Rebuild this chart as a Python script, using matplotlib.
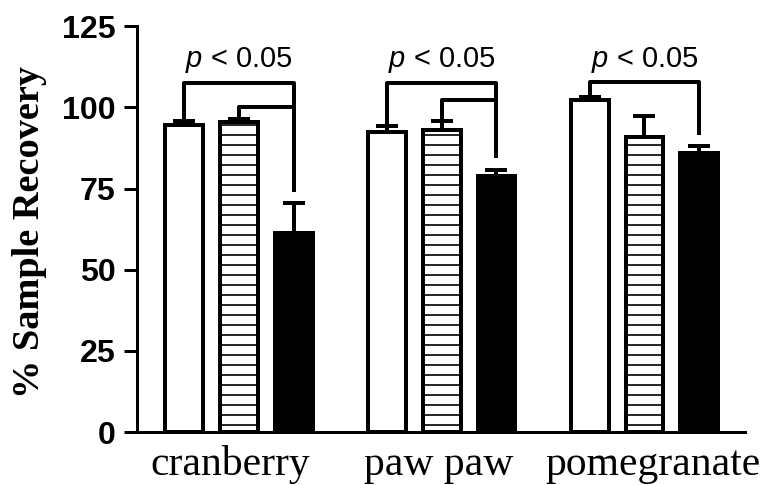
import numpy as np
import matplotlib
matplotlib.use("Agg")
import matplotlib.pyplot as plt
import matplotlib.transforms as mtransforms

# data
fruits = ["cranberry", "paw paw", "pomegranate"]
white_vals = [94.5, 92.4, 102.2]
white_err = [1.3, 2.0, 1.0]
striped_vals = [95.4, 93.0, 90.8]
striped_err = [1.0, 2.8, 6.5]
black_vals = [61.3, 79.0, 85.9]
black_err = [9.2, 1.8, 2.2]

# significance brackets: (group, from bar, to bar, bracket height)
brackets = [(0, 0, 2, 107.4), (0, 1, 2, 100.0),
            (1, 0, 2, 107.4), (1, 1, 2, 102.2),
            (2, 0, 2, 107.8)]
p_labels = ["p < 0.05", "p < 0.05", "p < 0.05"]

DPI = 120
plt.rcParams["hatch.linewidth"] = 1.0
plt.rcParams["mathtext.fontset"] = "custom"
plt.rcParams["mathtext.it"] = "Liberation Sans:italic"
plt.rcParams["mathtext.rm"] = "Liberation Sans"

fig = plt.figure(figsize=(766 / DPI, 485 / DPI), dpi=DPI)
ax = fig.add_axes([0.179, 0.109, 0.794, 0.837])

group_gap = 3.7
width = 0.69
centers = np.arange(len(fruits)) * group_gap
series = [(white_vals, white_err, "white", ""),
          (striped_vals, striped_err, "white", "--"),
          (black_vals, black_err, "black", "")]

tops = {}
for i, (vals, errs, fc, hatch) in enumerate(series):
    xs = centers + (i - 1)
    ax.bar(xs, vals, width, color=fc, edgecolor="black", linewidth=2.4,
           hatch=hatch, zorder=2)
    ax.errorbar(xs, vals, yerr=[np.zeros(len(vals)), errs], fmt="none",
                ecolor="black", elinewidth=2.4, capsize=6.5, capthick=2.4,
                zorder=1)
    for g in range(len(fruits)):
        tops[(g, i)] = (xs[g], vals[g] + errs[g])

# brackets
for g, a, b, h in brackets:
    xa, ya = tops[(g, a)]
    xb, yb = tops[(g, b)]
    ax.plot([xa, xa, xb, xb], [ya + 0.6, h, h, yb + 3.5],
            color="black", lw=2.4, solid_capstyle="butt", zorder=3)

for g, lab in enumerate(p_labels):
    ax.text(centers[g], 112.5, r"$p$" + lab[1:], ha="center", va="baseline",
            fontsize=17.5, family="Liberation Sans")

ax.set_xlim(-1.855, centers[-1] + 1.84)
ax.set_ylim(0, 125)
ax.set_yticks(np.arange(0, 126, 25))
ax.set_xticks(centers)
ax.set_xticklabels(fruits, fontsize=25, family="Liberation Serif")
ax.tick_params(axis="x", length=0, pad=8)
ax.tick_params(axis="y", length=8, width=1.8, pad=5)
for t in ax.get_yticklabels():
    t.set_fontsize(19.3)
    t.set_fontweight("bold")
    t.set_family("Liberation Sans")

# labels in the original sit slightly spread out
for t, dx in zip(ax.get_xticklabels(), [-5, -2, 5]):
    t.set_transform(t.get_transform() +
                    mtransforms.ScaledTranslation(dx / 72, 0, fig.dpi_scale_trans))

ax.set_ylabel("% Sample Recovery", fontsize=23, fontweight="bold",
              family="Liberation Serif")
ax.yaxis.set_label_coords(-0.148, 0.493)

for s in ["top", "right"]:
    ax.spines[s].set_visible(False)
for s in ["left", "bottom"]:
    ax.spines[s].set_linewidth(1.8)

fig.savefig("out.png", dpi=DPI)
